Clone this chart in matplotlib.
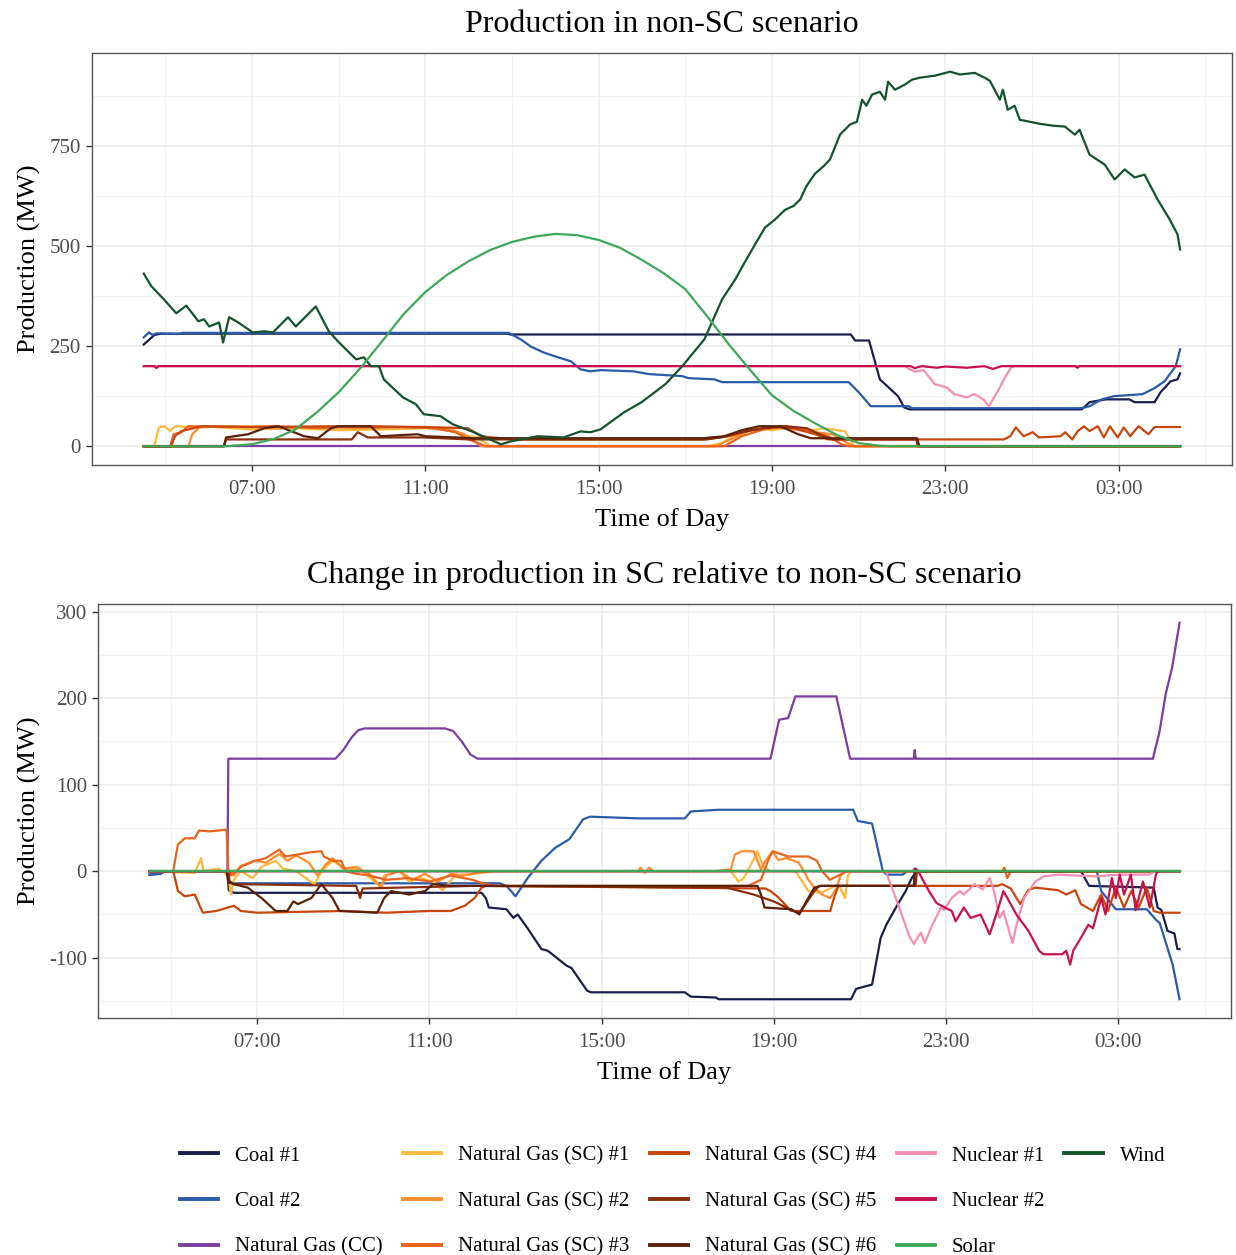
import matplotlib.pyplot as plt
from matplotlib.lines import Line2D
from matplotlib.ticker import FixedLocator

plt.rcParams['font.family'] = 'Liberation Serif'
plt.rcParams['axes.unicode_minus'] = False

units = ["Coal #1", "Coal #2", "Natural Gas (CC)",
         "Natural Gas (SC) #1", "Natural Gas (SC) #2", "Natural Gas (SC) #3",
         "Natural Gas (SC) #4", "Natural Gas (SC) #5", "Natural Gas (SC) #6",
         "Nuclear #1", "Nuclear #2", "Solar", "Wind"]
colors = ["#1b1f4b", "#2b5aa8", "#7a3ea1",
          "#fdb93c", "#fd8d2c", "#e8641c",
          "#c8460c", "#8c2d0c", "#5a2008",
          "#f48fb1", "#c8104e", "#3fa858", "#14532d"]
# solar is stacked on top of wind
draw_order = [0, 1, 2, 3, 4, 5, 6, 7, 8, 9, 10, 12, 11]

# (hour, MW) pairs; hours above 24 are the next morning
# --- production, non-SC run ---
coal1_prod = [(4.50, 254), (4.75, 278), (4.90, 281), (12.92, 281), (12.95, 279), (20.82, 279),
              (20.92, 264), (21.24, 264), (21.49, 167), (21.91, 125), (22.05, 97), (22.18, 92),
              (26.15, 92), (26.33, 110), (26.70, 117), (27.25, 117), (27.37, 110), (27.83, 110),
              (27.97, 135), (28.20, 162), (28.36, 167), (28.42, 182)]
coal2_prod = [(4.50, 272), (4.62, 284), (4.70, 278), (4.80, 282), (5.30, 280), (5.40, 283),
              (12.92, 283), (13.20, 267), (13.43, 249), (13.73, 234), (14.06, 222), (14.36, 212),
              (14.58, 192), (14.81, 187), (15.04, 190), (15.80, 187), (16.17, 180), (16.93, 175),
              (17.07, 170), (17.67, 167), (17.85, 160), (20.77, 160), (21.00, 135), (21.28, 100),
              (22.15, 100), (22.24, 95), (26.15, 95), (26.33, 100), (26.61, 117), (26.89, 125),
              (27.55, 130), (27.83, 145), (28.06, 162), (28.32, 200), (28.42, 242)]
ngcc_prod = [(4.50, 0), (28.42, 0)]
sc1_prod = [(4.50, 0), (4.74, 0), (4.85, 47), (4.97, 50), (5.11, 38), (5.23, 50), (5.62, 47),
            (5.85, 50), (6.24, 47), (7.00, 42), (8.00, 45), (9.00, 40), (10.00, 42), (11.00, 45),
            (11.55, 40), (11.98, 25), (12.21, 22), (12.50, 0), (17.50, 0), (17.85, 8), (18.20, 30),
            (18.60, 45), (19.00, 40), (19.40, 47), (19.80, 38), (20.20, 45), (20.69, 37),
            (20.90, 0), (28.42, 0)]
sc2_prod = [(4.50, 0), (5.53, 0), (5.62, 30), (5.78, 47), (6.50, 50), (7.50, 45), (8.50, 48),
            (9.50, 45), (10.50, 47), (11.50, 45), (11.90, 30), (12.30, 0), (17.70, 0), (18.10, 20),
            (18.50, 40), (19.00, 47), (19.50, 42), (20.00, 35), (20.40, 30), (20.70, 10),
            (20.90, 0), (28.42, 0)]
sc3_prod = [(4.50, 0), (5.11, 0), (5.19, 30), (5.37, 35), (5.53, 50), (6.50, 48), (7.50, 50),
            (8.50, 45), (9.50, 50), (10.50, 48), (11.20, 45), (11.70, 35), (12.00, 17), (12.40, 0),
            (17.90, 0), (18.30, 25), (18.80, 42), (19.30, 50), (19.80, 40), (20.30, 25),
            (20.60, 5), (20.80, 0), (28.42, 0)]
sc4_prod = [(4.50, 0), (5.13, 0), (5.22, 25), (5.37, 38), (5.85, 50), (7.00, 48), (9.00, 50),
            (11.00, 48), (11.98, 45), (12.28, 25), (12.74, 20), (13.00, 17), (17.50, 17),
            (18.00, 25), (18.50, 40), (19.00, 48), (19.50, 45), (20.00, 30), (20.30, 17),
            (24.35, 17), (24.50, 25), (24.63, 47), (24.81, 25), (25.02, 35), (25.16, 22),
            (25.66, 25), (25.77, 35), (25.93, 17), (26.06, 38), (26.20, 50), (26.33, 38),
            (26.52, 50), (26.66, 22), (26.80, 50), (26.98, 22), (27.12, 47), (27.27, 25),
            (27.46, 50), (27.69, 30), (27.83, 48), (28.42, 48)]
sc5_prod = [(4.50, 0), (6.35, 0), (6.40, 17), (9.30, 17), (9.44, 35), (9.67, 22), (10.96, 22),
            (12.00, 17), (17.40, 17), (17.80, 22), (18.30, 35), (18.80, 45), (19.30, 50),
            (19.80, 45), (20.20, 25), (20.40, 17), (22.33, 17), (22.37, 0), (28.42, 0)]
sc6_prod = [(4.50, 0), (6.35, 0), (6.40, 22), (6.91, 30), (7.28, 45), (7.60, 50), (7.90, 38),
            (8.20, 25), (8.52, 20), (8.82, 45), (8.98, 50), (9.74, 50), (9.97, 25), (10.82, 30),
            (11.00, 25), (12.12, 20), (17.40, 20), (17.90, 25), (18.30, 40), (18.70, 50),
            (19.20, 50), (19.60, 30), (19.90, 20), (22.35, 20), (22.40, 0), (28.42, 0)]
nuc1_prod = [(4.50, 200), (22.07, 200), (22.18, 192), (22.30, 186), (22.50, 190), (22.76, 155),
             (23.03, 147), (23.21, 130), (23.49, 122), (23.67, 130), (23.88, 117), (24.01, 100),
             (24.20, 135), (24.38, 172), (24.52, 197), (24.60, 200), (28.42, 200)]
nuc2_prod = [(4.50, 200), (4.74, 200), (4.79, 195), (4.84, 200), (22.20, 200), (22.30, 195),
             (22.45, 200), (22.80, 196), (23.00, 199), (23.50, 196), (23.90, 200), (24.10, 193),
             (24.30, 200), (26.00, 200), (26.05, 196), (26.10, 200), (28.42, 200)]
solar_prod = [(4.50, 0), (6.40, 0), (7.00, 5), (7.50, 18), (8.00, 42), (8.50, 85), (9.00, 135),
              (9.50, 195), (10.00, 262), (10.50, 330), (11.00, 385), (11.50, 428), (12.00, 462),
              (12.50, 490), (13.00, 510), (13.50, 523), (14.00, 530), (14.50, 527), (15.00, 515),
              (15.50, 495), (16.00, 465), (16.50, 432), (17.00, 392), (17.50, 325), (18.00, 255),
              (18.50, 190), (19.00, 127), (19.50, 88), (20.00, 57), (20.50, 28), (21.00, 8),
              (21.50, 1), (21.80, 0), (28.42, 0)]
wind_prod = [(4.50, 431), (4.67, 400), (4.97, 366), (5.25, 332), (5.48, 351), (5.76, 312),
             (5.89, 317), (6.01, 299), (6.24, 309), (6.33, 259), (6.47, 322), (6.68, 309),
             (7.02, 284), (7.28, 287), (7.48, 284), (7.83, 322), (8.01, 299), (8.47, 349),
             (8.77, 287), (8.98, 262), (9.40, 217), (9.58, 222), (9.74, 200), (9.93, 200),
             (10.04, 167), (10.48, 122), (10.78, 105), (10.96, 80), (11.35, 75), (11.63, 55),
             (12.12, 35), (12.74, 5), (12.97, 12), (13.59, 25), (14.19, 22), (14.58, 37),
             (14.81, 35), (15.04, 42), (15.59, 85), (15.99, 110), (16.54, 155), (16.93, 200),
             (17.44, 267), (17.85, 367), (18.15, 416), (18.38, 461), (18.61, 504), (18.84, 546),
             (19.07, 566), (19.30, 590), (19.50, 600), (19.65, 616), (19.80, 650), (19.99, 680),
             (20.20, 700), (20.34, 716), (20.57, 778), (20.80, 803), (20.96, 810), (21.08, 865),
             (21.18, 850), (21.31, 878), (21.49, 885), (21.61, 865), (21.68, 910), (21.84, 890),
             (22.07, 903), (22.23, 915), (22.41, 920), (22.76, 925), (23.11, 935), (23.34, 928),
             (23.68, 932), (23.91, 920), (24.03, 912), (24.26, 865), (24.33, 890), (24.44, 840),
             (24.60, 850), (24.72, 815), (25.18, 805), (25.50, 800), (25.76, 798), (25.99, 778),
             (26.10, 790), (26.33, 728), (26.68, 703), (26.91, 666), (27.14, 691), (27.37, 671),
             (27.60, 678), (27.90, 616), (28.18, 566), (28.36, 529), (28.42, 491)]

# --- SC minus non-SC ---
coal1_diff = [(4.50, -4), (4.75, -3), (4.85, 0), (6.31, 0), (6.34, -22), (6.46, -25), (12.21, -25),
              (12.31, -31), (12.38, -42), (12.79, -44), (12.95, -54), (13.05, -50), (13.28, -66),
              (13.60, -90), (13.75, -92), (14.18, -109), (14.30, -112), (14.66, -138),
              (14.75, -140), (16.93, -140), (17.07, -145), (17.65, -146), (17.72, -148),
              (20.79, -148), (20.91, -136), (21.28, -131), (21.48, -77), (21.62, -61),
              (21.88, -38), (22.06, -23), (22.20, -8), (22.29, -2), (22.35, 0), (26.13, 0),
              (26.32, -17), (27.82, -19), (27.91, -42), (28.00, -45), (28.14, -69), (28.30, -72),
              (28.37, -90), (28.42, -90)]
coal2_diff = [(4.50, -4), (4.75, -3), (4.85, 0), (6.31, 0), (6.34, -12), (6.46, -14), (12.63, -14),
              (12.79, -17), (13.00, -29), (13.28, -8), (13.60, 12), (13.92, 27), (14.25, 37),
              (14.57, 60), (14.73, 63), (15.87, 61), (16.93, 61), (17.07, 69), (17.72, 71),
              (20.84, 71), (20.95, 58), (21.28, 55), (21.53, 0), (21.62, -4), (21.99, -4),
              (22.10, 0), (26.50, 0), (26.60, -23), (26.94, -44), (27.66, -44), (27.87, -56),
              (27.96, -60), (28.26, -108), (28.42, -148)]
ngcc_diff = [(4.50, 0), (6.31, 0), (6.33, 130), (8.82, 130), (9.00, 140), (9.20, 155), (9.35, 163),
             (9.50, 165), (11.36, 165), (11.55, 162), (11.75, 150), (11.95, 135), (12.12, 130),
             (18.92, 130), (19.12, 175), (19.33, 177), (19.50, 202), (20.45, 202), (20.77, 130),
             (22.25, 130), (22.27, 140), (22.29, 130), (27.80, 130), (27.95, 160), (28.10, 205),
             (28.25, 236), (28.42, 287)]
sc1_diff = [(4.50, 0), (5.55, -2), (5.70, 15), (5.75, 0), (6.10, 3), (6.33, -5), (6.39, -27),
            (6.46, -10), (6.62, 0), (6.90, -8), (7.10, 5), (7.43, 12), (7.60, 3), (7.90, 0),
            (8.33, -15), (8.50, 0), (8.75, 12), (9.05, 3), (9.40, 2), (9.88, -19), (9.95, -5),
            (10.30, 0), (10.53, -12), (10.80, -8), (11.08, -12), (11.30, -22), (11.60, -5),
            (12.00, -3), (12.60, 0), (18.00, 0), (18.18, -12), (18.30, -8), (18.43, 4),
            (18.62, 23), (18.75, 5), (18.92, 0), (19.50, 0), (19.70, -15), (19.80, -23),
            (20.10, -25), (20.30, -20), (20.50, -15), (20.65, -31), (20.72, -5), (20.80, 0),
            (28.42, 0)]
sc2_diff = [(4.50, 0), (6.33, 0), (6.46, -5), (6.62, 6), (6.94, 12), (7.20, 10), (7.52, 20),
            (7.70, 12), (7.91, 18), (8.20, 10), (8.40, -5), (8.60, 8), (8.75, 15), (9.00, 3),
            (9.30, 5), (9.60, -3), (9.88, -19), (10.00, -5), (10.30, 0), (10.60, -10),
            (10.90, -3), (11.20, -12), (11.50, -3), (11.80, -5), (12.10, -2), (12.40, 0),
            (15.85, 0), (15.90, 4), (16.00, -2), (16.10, 4), (16.20, 0), (17.60, 0), (18.00, 2),
            (18.09, 19), (18.25, 23), (18.53, 23), (18.62, 12), (18.70, 2), (18.78, 10),
            (18.97, 23), (19.10, 13), (19.30, 15), (19.57, 10), (19.70, 0), (19.80, -10),
            (19.94, -19), (20.12, -27), (20.31, -31), (20.45, -20), (20.55, -5), (20.65, 0),
            (28.42, 0)]
sc3_diff = [(4.50, 0), (5.05, 0), (5.16, 31), (5.32, 38), (5.55, 38), (5.65, 47), (5.90, 46),
            (6.29, 48), (6.33, 0), (6.39, -5), (6.62, 5), (6.94, 12), (7.20, 15), (7.52, 25),
            (7.65, 17), (7.91, 19), (8.26, 22), (8.49, 23), (8.55, 17), (8.75, 12), (8.95, 12),
            (9.05, 0), (9.30, -3), (9.60, -5), (10.00, -10), (10.50, -8), (11.00, -12),
            (11.50, -5), (12.00, -10), (12.30, -15), (12.60, -17), (18.40, -17), (18.70, -10),
            (18.87, 13), (18.97, 23), (19.33, 17), (19.80, 17), (20.00, 12), (20.12, 0),
            (20.30, -10), (20.50, -5), (20.70, 0), (24.30, 0), (24.35, 4), (24.42, -8),
            (24.50, 0), (28.42, 0)]
sc4_diff = [(4.50, 0), (5.05, 0), (5.09, -8), (5.16, -23), (5.32, -29), (5.55, -27), (5.74, -48),
            (6.05, -46), (6.46, -40), (6.62, -46), (7.00, -48), (8.00, -47), (9.00, -46),
            (10.00, -48), (11.00, -46), (11.50, -46), (11.82, -40), (12.05, -31), (12.21, -19),
            (12.31, -17), (18.80, -20), (18.92, -23), (19.10, -30), (19.40, -46), (20.31, -46),
            (20.40, -30), (20.50, -17), (24.19, -17), (24.30, -15), (24.50, -20), (24.72, -38),
            (24.90, -22), (25.07, -19), (25.60, -22), (25.79, -27), (26.00, -22), (26.13, -38),
            (26.41, -46), (26.60, -27), (26.76, -46), (26.94, -19), (27.13, -42), (27.30, -23),
            (27.47, -42), (27.66, -19), (27.82, -46), (27.96, -48), (28.42, -48)]
sc5_diff = [(4.50, 0), (6.33, 0), (6.36, -12), (6.46, -15), (9.30, -17), (9.39, -31), (9.45, -20),
            (12.00, -17), (17.90, -19), (18.53, -27), (19.00, -35), (19.45, -46), (19.60, -48),
            (19.94, -23), (20.05, -17), (22.29, -17), (22.32, 0), (28.42, 0)]
sc6_diff = [(4.50, 0), (6.29, 0), (6.33, -13), (6.46, -15), (6.78, -19), (7.10, -31), (7.43, -46),
            (7.70, -46), (7.84, -35), (7.95, -38), (8.26, -31), (8.49, -15), (8.75, -31),
            (8.91, -46), (9.79, -48), (9.95, -31), (10.11, -23), (10.53, -27), (10.90, -23),
            (11.08, -15), (11.50, -17), (18.62, -17), (18.70, -27), (18.78, -42), (19.41, -44),
            (19.59, -50), (19.75, -35), (19.94, -19), (20.10, -17), (22.25, -17), (22.27, 3),
            (22.31, 0), (28.42, 0)]
nuc1_diff = [(4.50, 0), (21.60, 0), (21.62, -3), (21.88, -38), (22.16, -77), (22.25, -84),
             (22.41, -71), (22.50, -83), (22.69, -61), (22.88, -42), (22.95, -45), (23.13, -31),
             (23.32, -23), (23.41, -27), (23.66, -15), (23.85, -21), (24.01, -8), (24.10, -21),
             (24.24, -54), (24.33, -46), (24.54, -83), (24.63, -63), (24.81, -31), (25.07, -12),
             (25.26, -6), (25.60, -4), (26.50, -6), (27.00, -4), (27.70, -4), (27.87, 0),
             (28.42, 0)]
nuc2_diff = [(4.50, 0), (22.25, 0), (22.29, 3), (22.35, 0), (22.60, -23), (22.78, -37),
             (23.13, -46), (23.22, -58), (23.41, -42), (23.57, -54), (23.80, -50), (24.01, -73),
             (24.19, -46), (24.33, -23), (24.42, -31), (24.63, -50), (24.91, -69), (25.16, -92),
             (25.26, -96), (25.69, -96), (25.79, -92), (25.88, -108), (25.95, -92), (26.13, -77),
             (26.30, -62), (26.41, -66), (26.60, -31), (26.70, -50), (26.85, -8), (26.94, -31),
             (27.03, -4), (27.13, -27), (27.29, -4), (27.40, -45), (27.57, -12), (27.73, -42),
             (27.87, -4), (27.92, 0), (28.42, 0)]
solar_diff = [(4.50, 0), (28.42, 0)]
wind_diff = [(4.50, 0), (28.42, 0)]

prod = [coal1_prod, coal2_prod, ngcc_prod, sc1_prod, sc2_prod, sc3_prod, sc4_prod,
        sc5_prod, sc6_prod, nuc1_prod, nuc2_prod, solar_prod, wind_prod]
diff = [coal1_diff, coal2_diff, ngcc_diff, sc1_diff, sc2_diff, sc3_diff, sc4_diff,
        sc5_diff, sc6_diff, nuc1_diff, nuc2_diff, solar_diff, wind_diff]

hour_ticks = [7, 11, 15, 19, 23, 27]
hour_labels = ["07:00", "11:00", "15:00", "19:00", "23:00", "03:00"]
hour_minor = [5, 9, 13, 17, 21, 25, 29]


def draw(ax, series):
    for i in draw_order:
        pts = series[i]
        ax.plot([p[0] for p in pts], [p[1] for p in pts], color=colors[i], lw=1.6,
                solid_joinstyle='round')
    ax.margins(0.05)


def style(ax, title, yticks, yminor):
    ax.set_title(title, fontsize=23, pad=15)
    ax.set_xlabel("Time of Day", fontsize=19, labelpad=6)
    ax.set_ylabel("Production (MW)", fontsize=19, labelpad=6)
    ax.set_xticks(hour_ticks)
    ax.set_xticklabels(hour_labels)
    ax.xaxis.set_minor_locator(FixedLocator(hour_minor))
    ax.set_yticks(yticks)
    ax.yaxis.set_minor_locator(FixedLocator(yminor))
    ax.grid(which='major', color='#ebebeb', lw=1.1)
    ax.grid(which='minor', color='#f2f2f2', lw=0.6)
    ax.set_axisbelow(True)
    ax.tick_params(which='major', length=4, width=1, color='#333333',
                   labelsize=15, labelcolor='#4d4d4d')
    ax.tick_params(axis='x', which='major', pad=7)
    ax.tick_params(axis='y', which='major', pad=4)
    ax.tick_params(which='minor', length=0)
    for s in ax.spines.values():
        s.set_color('#555555')
        s.set_linewidth(1.0)


fig = plt.figure(figsize=(12.36, 12.55), dpi=100)

ax1 = fig.add_axes([0.0744, 0.6295, 0.9223, 0.3283])
draw(ax1, prod)
style(ax1, "Production in non-SC scenario", [0, 250, 500, 750], [125, 375, 625, 875])

ax2 = fig.add_axes([0.0793, 0.1888, 0.9167, 0.3299])
draw(ax2, diff)
style(ax2, "Change in production in SC relative to non-SC scenario",
      [-100, 0, 100, 200, 300], [-150, -50, 50, 150, 250])

# legend: 5 columns filled top to bottom, last column only holds Wind
handles = [Line2D([], [], color=c, lw=2.8) for c in colors]
labels = list(units)
for _ in range(2):
    handles.append(Line2D([], [], color='none'))
    labels.append('')
fig.legend(handles, labels, loc='upper left', bbox_to_anchor=(0.1456, 0.0868),
           ncol=5, frameon=False, fontsize=15, handlelength=1.83, handletextpad=0.82,
           columnspacing=0.97, labelspacing=1.25, borderpad=0, borderaxespad=0)

fig.savefig("out.png", dpi=100)
